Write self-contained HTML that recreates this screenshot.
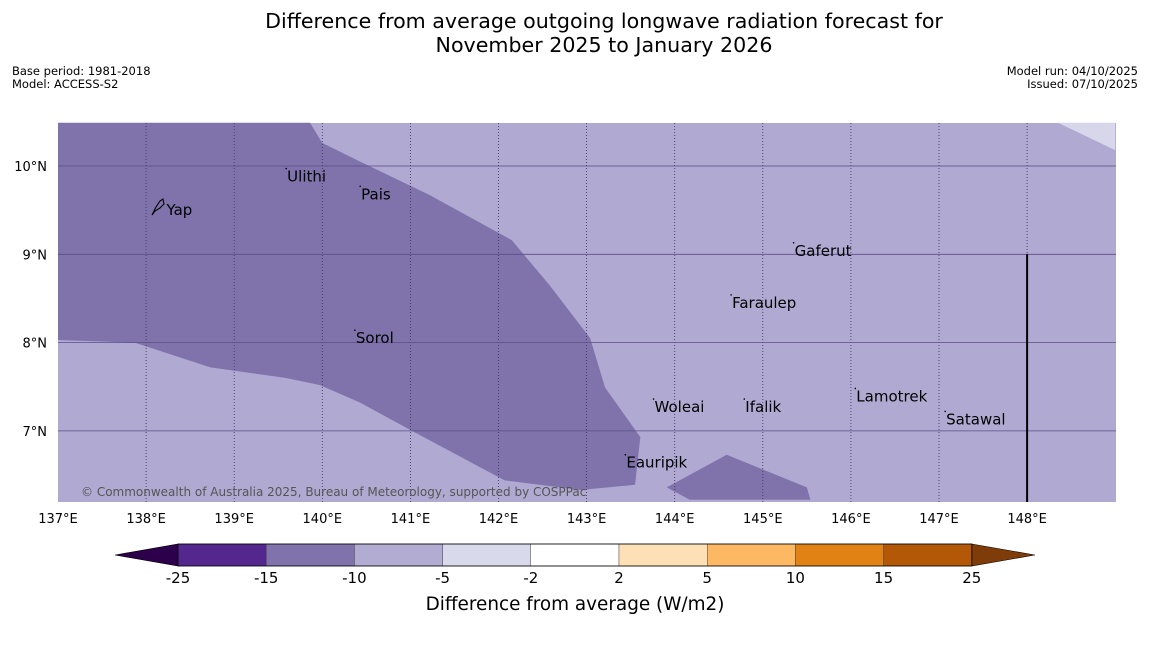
<!DOCTYPE html>
<html><head><meta charset="utf-8"><style>
body{margin:0;background:#fff;width:1150px;height:644px;overflow:hidden;font-family:"DejaVu Sans","Liberation Sans",sans-serif}
</style></head><body>
<svg width="1150" height="644" xmlns="http://www.w3.org/2000/svg" font-family="DejaVu Sans, Liberation Sans, sans-serif">
<text x="604" y="28" font-size="20.6" text-anchor="middle">Difference from average outgoing longwave radiation forecast for</text>
<text x="604" y="52" font-size="20.6" text-anchor="middle">November 2025 to January 2026</text>
<text x="12" y="75" font-size="11.5">Base period: 1981-2018</text>
<text x="12" y="88" font-size="11.5">Model: ACCESS-S2</text>
<text x="1138" y="75" font-size="11.5" text-anchor="end">Model run: 04/10/2025</text>
<text x="1138" y="88" font-size="11.5" text-anchor="end">Issued: 07/10/2025</text>
<g id="map"></g>
<g id="cbar"></g>
<text x="575" y="610" font-size="18.4" text-anchor="middle">Difference from average (W/m2)</text>
</svg>
<script>
const lonTicks=[137,138,139,140,141,142,143,144,145,146,147,148];
const latTicks=[7,8,9,10];
const darkRegion1=[[137,10.49],[139.86,10.49],[140.0,10.26],[140.43,10.05],[141.22,9.67],[142.15,9.16],[142.58,8.65],[143.04,8.05],[143.21,7.49],[143.61,6.93],[143.55,6.39],[142.93,6.33],[142.07,6.44],[141.0,7.01],[140.43,7.32],[139.97,7.52],[139.58,7.60],[138.73,7.72],[137.87,8.0],[137.57,8.01],[137,8.03]];
const darkRegion2=[[143.91,6.36],[144.59,6.73],[145.5,6.36],[145.54,6.22],[144.17,6.22]];
const paleRegion=[[148.35,10.49],[148.83,10.26],[149.0,10.18],[149.0,10.49]];
const placeNames=["Yap","Ulithi","Pais","Gaferut","Faraulep","Sorol","Woleai","Ifalik","Lamotrek","Satawal","Eauripik"];
const placeLon=[138.22,139.59,140.43,145.35,144.64,140.37,143.76,144.79,146.05,147.07,143.44];
const placeLat=[9.50,9.88,9.68,9.04,8.45,8.05,7.27,7.27,7.39,7.13,6.64];
const cbarLevels=["-25","-15","-10","-5","-2","2","5","10","15","25"];
const cbarColors=["#54278f","#8073ac","#b2abd2","#d8daeb","#ffffff","#fee0b6","#fdb863","#e08214","#b35806"];
const NS="http://www.w3.org/2000/svg";
const X0=58,X1=1116,Y0=123,Y1=502;
const xs=lon=>58+(lon-137)*88.1;
const ys=lat=>166+(10-lat)*88.3;
function mk(p,t,a){const e=document.createElementNS(NS,t);for(const k in a)e.setAttribute(k,a[k]);p.appendChild(e);return e;}
const map=document.getElementById('map');
const bg=mk(map,'rect',{x:X0,y:Y0,width:X1-X0,height:Y1-Y0,fill:'#b0a9d1'});


function poly(pts,fill,name){const p=mk(map,'polygon',{points:pts.map(q=>xs(q[0])+','+ys(q[1])).join(' '),fill:fill});

}
poly(darkRegion1,'#8073ac','anomaly-region-west');
poly(darkRegion2,'#8073ac','anomaly-region-south');
poly(paleRegion,'#d8d6ea','anomaly-region-northeast');
lonTicks.forEach(l=>{const x=xs(l);
 if(l>137){const g=mk(map,'line',{x1:x,y1:Y0,x2:x,y2:Y1,stroke:'#3a2f60','stroke-width':0.8,'stroke-dasharray':'1,2'});
 
 }
 const t=mk(map,'text',{x:x,y:523,'font-size':13,'text-anchor':'middle'});t.textContent=l+'°E';
 
 });
latTicks.forEach(l=>{const y=ys(l);
 const g=mk(map,'line',{x1:X0,y1:y,x2:X1,y2:y,stroke:'#5a4e85','stroke-width':0.8});
 
 
 const t=mk(map,'text',{x:47,y:y+5,'font-size':13,'text-anchor':'end'});t.textContent=l+'°N';
 
 });
const vl=mk(map,'line',{x1:xs(148),y1:ys(9),x2:xs(148),y2:Y1,stroke:'#000','stroke-width':2});


placeNames.forEach((n,i)=>{const x=xs(placeLon[i]),y=ys(placeLat[i]);
 if(i>0){const d=mk(map,'circle',{cx:x,cy:y-8,r:0.8,fill:'#000'});
 
 }
 const t=mk(map,'text',{x:x+1,y:y+5,'font-size':15});t.textContent=n;
 
 });
const yp=mk(map,'path',{d:'M152,215 L156,207 L160,201 L163,199 L164,204 L160,208 L155,211 Z',fill:'none',stroke:'#000','stroke-width':1.1});


const cp=mk(map,'text',{x:81,y:496,'font-size':12,fill:'#555'});cp.textContent='© Commonwealth of Australia 2025, Bureau of Meteorology, supported by COSPPac';


const cb=document.getElementById('cbar');
const cx0=178,cw=88.2,cy=544,ch=22;
const lt=mk(cb,'polygon',{points:`115,555 ${cx0},${cy} ${cx0},${cy+ch}`,fill:'#2d004b',stroke:'#000','stroke-width':0.6});


const re=cx0+cw*cbarColors.length;
const rt=mk(cb,'polygon',{points:`${re},${cy} 1035,555 ${re},${cy+ch}`,fill:'#7f3b08',stroke:'#000','stroke-width':0.6});


cbarColors.forEach((c,i)=>{const r=mk(cb,'rect',{x:cx0+i*cw,y:cy,width:cw,height:ch,fill:c,stroke:'#333','stroke-width':0.4});
 
 });
const ob=mk(cb,'rect',{x:cx0,y:cy,width:re-cx0,height:ch,fill:'none',stroke:'#000','stroke-width':0.8});


cbarLevels.forEach((l,i)=>{const t=mk(cb,'text',{x:cx0+i*cw,y:583,'font-size':15,'text-anchor':'middle'});t.textContent=l;
 
 });
</script>
</body></html>
